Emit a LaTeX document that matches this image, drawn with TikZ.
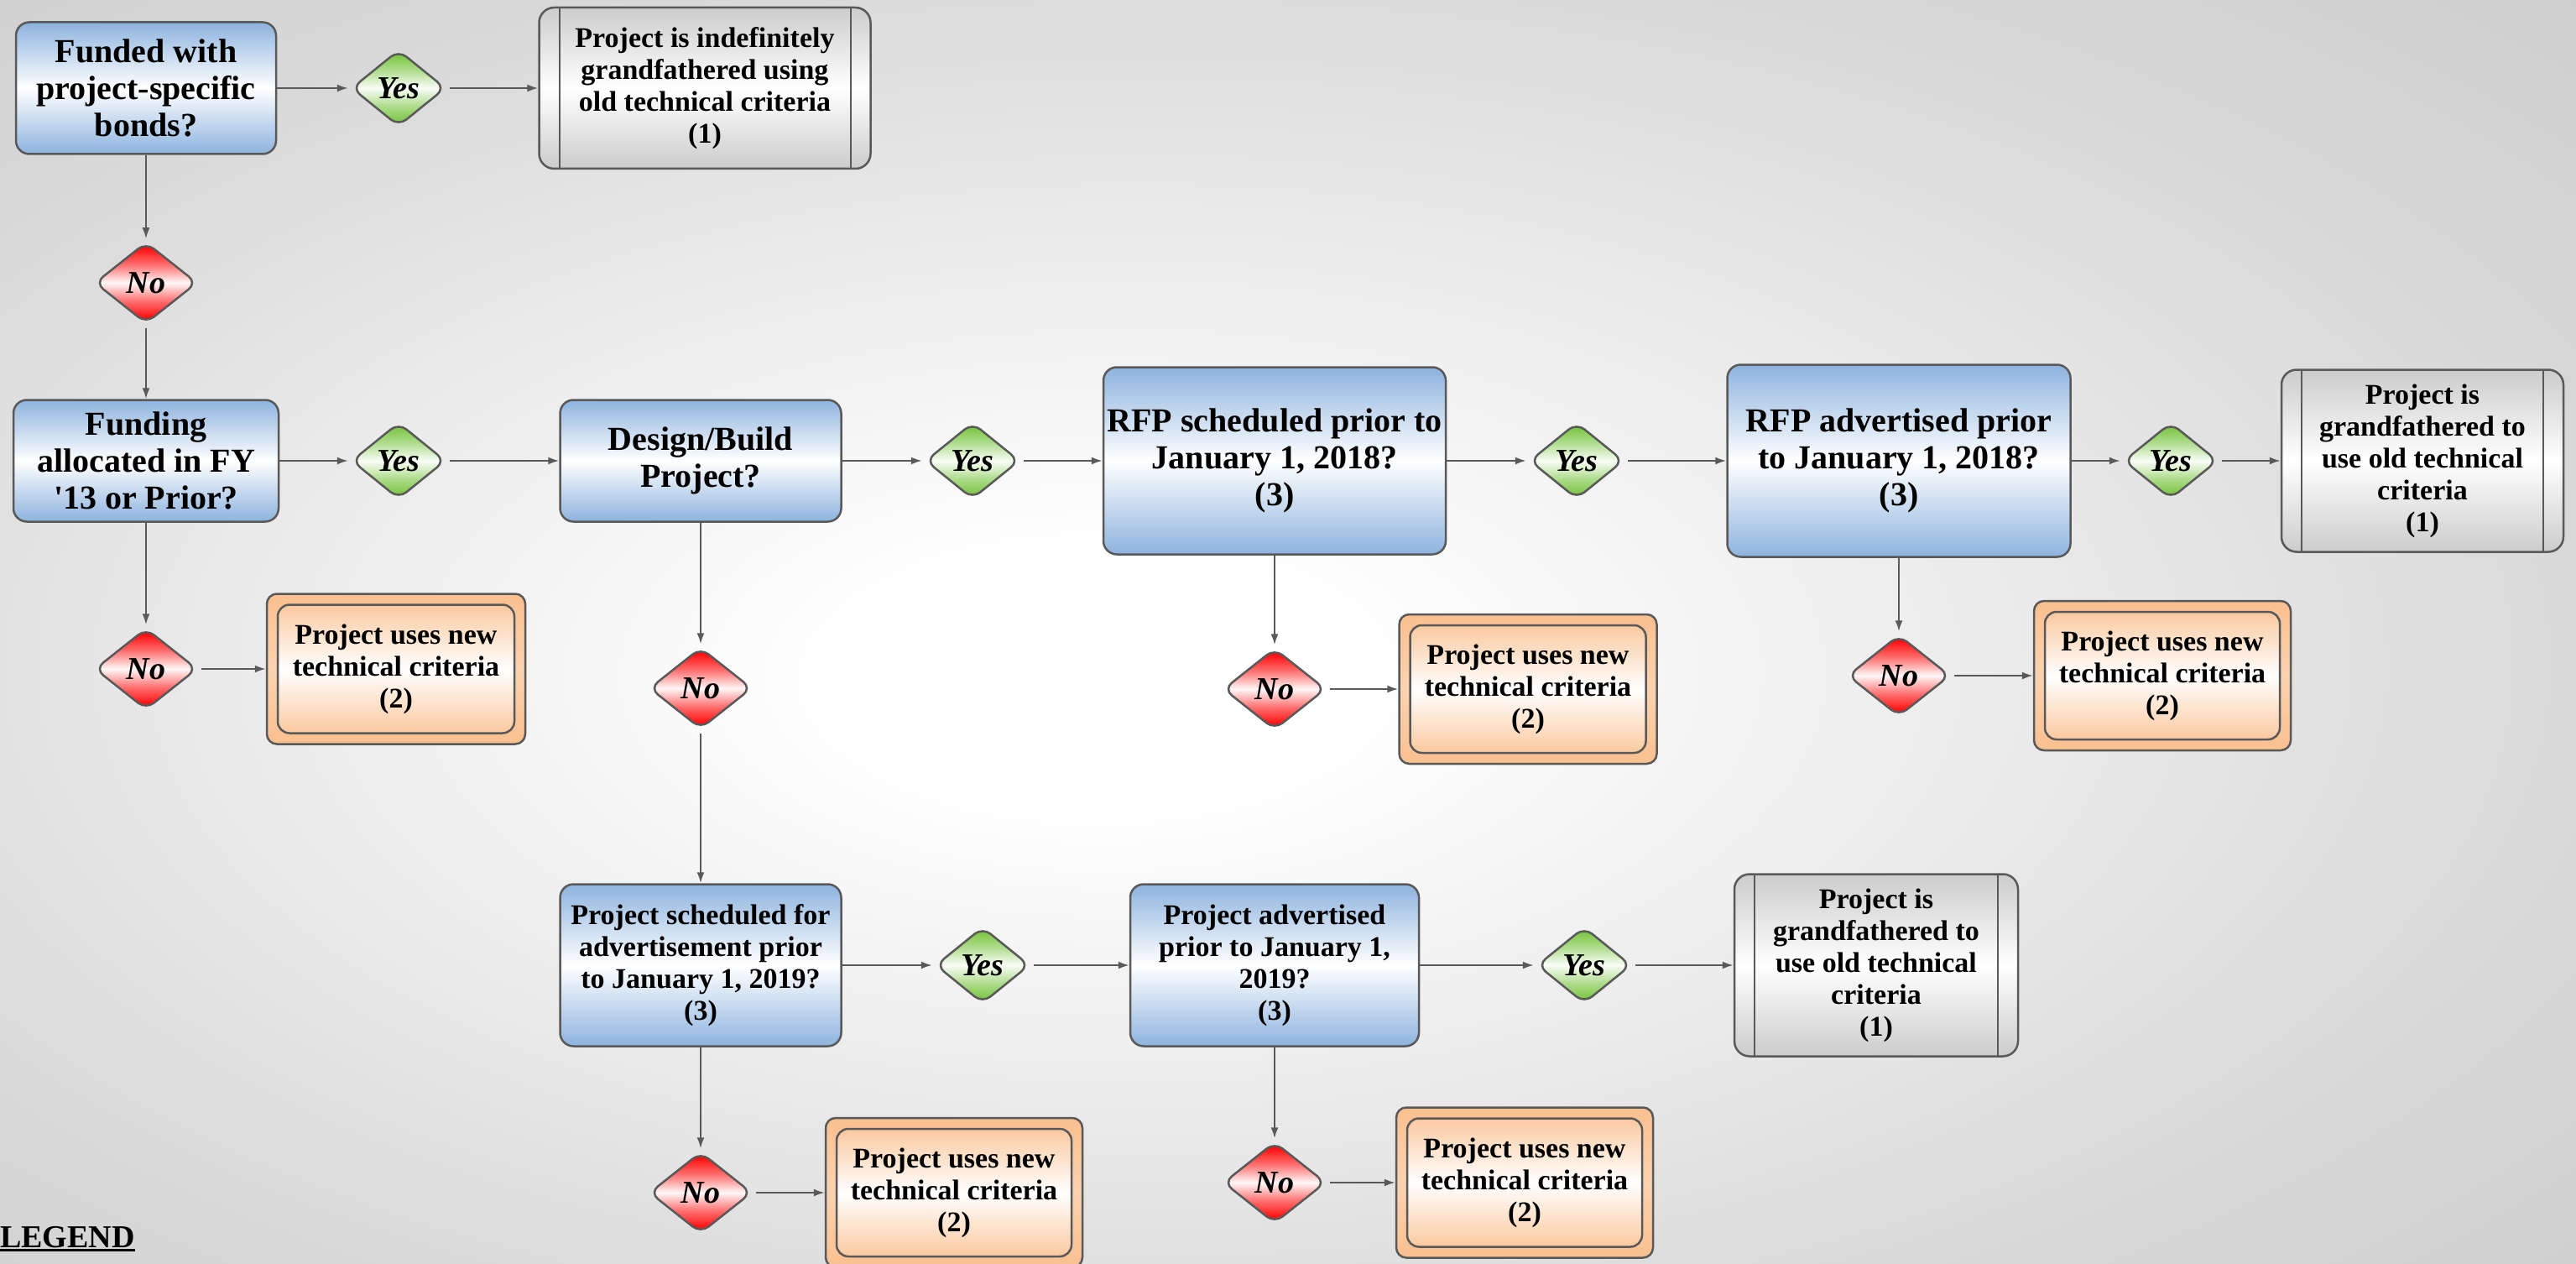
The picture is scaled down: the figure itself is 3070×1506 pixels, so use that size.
\documentclass[tikz,border=0pt]{standalone}
\usepackage{fontspec}
\setmainfont{Liberation Serif}[Ligatures=TeXOff]
\usetikzlibrary{shapes.geometric,arrows.meta}
\definecolor{linecol}{HTML}{595959}
\definecolor{bluec}{HTML}{8DB3DE}
\definecolor{greenc}{HTML}{76C33C}
\definecolor{redc}{HTML}{FF0000}
\definecolor{peach}{HTML}{FAC08F}
\definecolor{greyc}{HTML}{CCCCCC}
\pgfdeclareradialshading{bgshade}{\pgfpoint{-4bp}{-2bp}}{color(0bp)=(white); color(5bp)=(white); color(28bp)=(gray!30!white); color(50bp)=(gray!49!white); color(72bp)=(gray!58!white)}
\pgfdeclareverticalshading{redsh}{100bp}{color(0bp)=(redc); color(27bp)=(redc); color(39bp)=(redc!55!white); color(50bp)=(redc!3!white); color(61bp)=(redc!55!white); color(73bp)=(redc); color(100bp)=(redc)}
\pgfdeclareverticalshading{greensh}{100bp}{color(0bp)=(greenc); color(27bp)=(greenc); color(39bp)=(greenc!55!white); color(50bp)=(greenc!4!white); color(61bp)=(greenc!55!white); color(73bp)=(greenc); color(100bp)=(greenc)}
\tikzset{
  wh/.style 2 args={minimum width=#1pt, minimum height=#2pt},
  base/.style={draw=linecol, line width=2.5pt, align=center, inner sep=0pt, text=black},
  bluebox/.style={base, rounded corners=16pt, top color=bluec, bottom color=bluec, middle color=white,
    font=\bfseries\fontsize{40}{44}\selectfont},
  bluesmall/.style={bluebox, font=\bfseries\fontsize{34}{38}\selectfont},
  greybox/.style={base, rounded corners=18pt, top color=greyc, bottom color=greyc, middle color=white,
    font=\bfseries\fontsize{34}{38}\selectfont,
    path picture={
      \draw[linecol, line width=2pt] ([xshift=24pt]path picture bounding box.north west) -- ([xshift=24pt]path picture bounding box.south west);
      \draw[linecol, line width=2pt] ([xshift=-24pt]path picture bounding box.north east) -- ([xshift=-24pt]path picture bounding box.south east);
    }},
  orangebox/.style={base, rounded corners=12pt, top color=peach, bottom color=peach, middle color=peach!70!white,
    font=\bfseries\fontsize{34}{38}\selectfont,
    path picture={
      \shade[top color=peach, bottom color=peach, middle color=white, draw=linecol, line width=2.5pt, rounded corners=14pt]
        ([shift={(13pt,-13pt)}]path picture bounding box.north west) rectangle ([shift={(-13pt,13pt)}]path picture bounding box.south east);
    }},
  dia/.style={base, diamond, aspect=1.2, rounded corners=12pt,
    font=\bfseries\itshape\fontsize{38}{40}\selectfont},
  yesd/.style={dia, minimum width=112pt, minimum height=91pt, shading=greensh},
  nod/.style={dia, minimum width=122pt, minimum height=97pt, shading=redsh},
  conn/.style={draw=linecol, line width=2pt, -{Latex[length=13pt,width=9pt]}},
  fromd/.style={shorten <=4pt},
  tod/.style={shorten >=3pt},
}
\begin{document}
\begin{tikzpicture}[x=1pt,y=-1pt]
\useasboundingbox (0,0) rectangle (3070,1506);
\shade[shading=bgshade] (0,0) rectangle (3070,1506);

% row 1
\node[bluebox, wh={310}{157}] (b1) at (174,105) {Funded with\\project-specific\\bonds?};
\node[yesd] (y1) at (475,105) {Yes};
\node[greybox, wh={395}{192}] (g1) at (840,105) {Project is indefinitely\\grandfathered using\\old technical criteria\\(1)};
\node[nod] (n1) at (174,337) {No};

% row 2
\node[bluebox, wh={316}{145}] (b2) at (174,549) {Funding\\allocated in FY\\'13 or Prior?};
\node[yesd] (y2) at (475,549) {Yes};
\node[bluebox, wh={335}{145}] (b3) at (835,549) {Design/Build\\Project?};
\node[yesd] (y3) at (1159,549) {Yes};
\node[bluebox, wh={408}{223}] (b4) at (1519,549) {RFP scheduled prior to\\January 1, 2018?\\(3)};
\node[yesd] (y4) at (1879,549) {Yes};
\node[bluebox, wh={409}{229}] (b5) at (2263,549) {RFP advertised prior\\to January 1, 2018?\\(3)};
\node[yesd] (y5) at (2587,549) {Yes};
\node[greybox, wh={336}{217}] (g2) at (2887,549) {Project is\\grandfathered to\\use old technical\\criteria\\(1)};

% row 3
\node[nod] (n2) at (174,797) {No};
\node[orangebox, wh={308}{179}] (o1) at (472,797) {Project uses new\\technical criteria\\(2)};
\node[nod] (n5) at (835,820) {No};
\node[nod] (n3) at (1519,821) {No};
\node[orangebox, wh={307}{178}] (o3) at (1821,821) {Project uses new\\technical criteria\\(2)};
\node[nod] (n4) at (2263,805) {No};
\node[orangebox, wh={306}{178}] (o4) at (2577,805) {Project uses new\\technical criteria\\(2)};

% row 4
\node[bluesmall, wh={335}{193}] (b6) at (835,1150) {Project scheduled for\\advertisement prior\\to January 1, 2019?\\(3)};
\node[yesd] (y6) at (1171,1150) {Yes};
\node[bluesmall, wh={344}{193}] (b7) at (1519,1150) {Project advertised\\prior to January 1,\\2019?\\(3)};
\node[yesd] (y7) at (1888,1150) {Yes};
\node[greybox, wh={338}{217}] (g3) at (2236,1150) {Project is\\grandfathered to\\use old technical\\criteria\\(1)};

% row 5
\node[nod] (n6) at (835,1421) {No};
\node[orangebox, wh={306}{178}] (o6) at (1137,1421) {Project uses new\\technical criteria\\(2)};
\node[nod] (n7) at (1519,1409) {No};
\node[orangebox, wh={306}{179}] (o7) at (1817,1409) {Project uses new\\technical criteria\\(2)};

% legend
\node[anchor=base west, inner sep=0pt, font=\bfseries\fontsize{38}{40}\selectfont] (legend) at (0,1486) {LEGEND};
\draw[line width=3pt] ([yshift=-3pt]legend.base west) -- ([yshift=-3pt]legend.base east);

% connectors
\draw[conn, tod] (b1) -- (y1);
\draw[conn, fromd] (y1) -- (g1);
\draw[conn, tod] (b1) -- (n1);
\draw[conn, fromd] (n1) -- (b2);
\draw[conn, tod] (b2) -- (y2);
\draw[conn, fromd] (y2) -- (b3);
\draw[conn, tod] (b2) -- (n2);
\draw[conn, fromd] (n2) -- (o1);
\draw[conn, tod] (b3) -- (y3);
\draw[conn, fromd] (y3) -- (b4);
\draw[conn, tod] (b3) -- (n5);
\draw[conn, fromd] (n5) -- (b6);
\draw[conn, tod] (b4) -- (y4);
\draw[conn, fromd] (y4) -- (b5);
\draw[conn, tod] (b4) -- (n3);
\draw[conn, fromd] (n3) -- (o3);
\draw[conn, tod] (b5) -- (y5);
\draw[conn, fromd] (y5) -- (g2);
\draw[conn, tod] (b5) -- (n4);
\draw[conn, fromd] (n4) -- (o4);
\draw[conn, tod] (b6) -- (y6);
\draw[conn, fromd] (y6) -- (b7);
\draw[conn, tod] (b6) -- (n6);
\draw[conn, fromd] (n6) -- (o6);
\draw[conn, tod] (b7) -- (y7);
\draw[conn, fromd] (y7) -- (g3);
\draw[conn, tod] (b7) -- (n7);
\draw[conn, fromd] (n7) -- (o7);
\end{tikzpicture}
\end{document}
